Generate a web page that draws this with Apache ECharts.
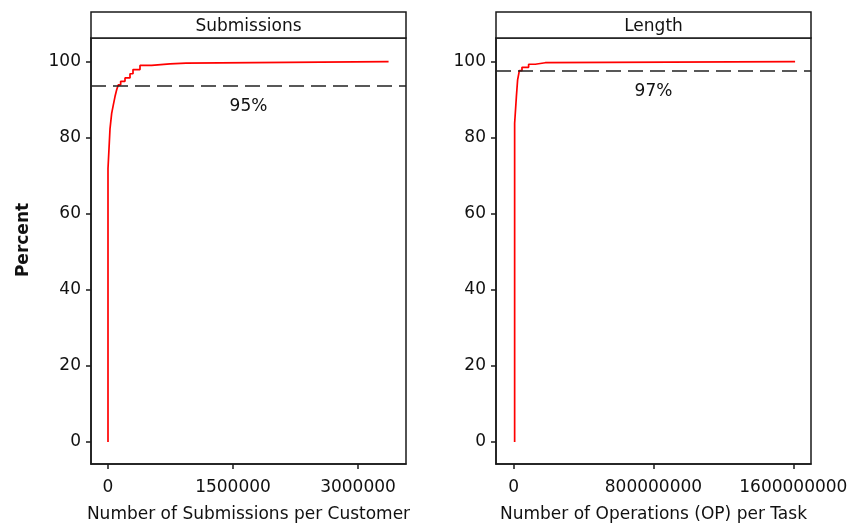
<!DOCTYPE html>
<html>
<head>
<meta charset="utf-8">
<script src="https://cdn.jsdelivr.net/npm/echarts@6/dist/echarts.min.js"></script>
<style>
html,body{margin:0;padding:0;background:#fff;}
#chart{width:848px;height:525px;}
</style>
</head>
<body>
<div id="chart"></div>
<script>
// ---- data ----
const panelTitles = ['Submissions', 'Length'];
const xAxisNames = ['Number of Submissions per Customer', 'Number of Operations (OP) per Task'];
const yAxisName = 'Percent';

// Submissions ECDF (x = submissions per customer, y = cumulative percent)
const subX = [0, 0, 24000, 44000, 64000, 84000, 104000, 124000, 152000, 204000, 264000, 300000, 384000, 524000, 744000, 936000, 3367000];
const subY = [0, 71.9, 82.3, 86.4, 88.6, 90.8, 92.6, 93.9, 94.8, 95.7, 96.8, 97.9, 99.0, 99.4, 99.6, 100, 100];

// Length ECDF (x = operations per task, y = cumulative percent)
const lenX = [6e6, 6e6, 16e6, 23e6, 33e6, 48e6, 86e6, 124e6, 181e6, 1610e6];
const lenY = [0, 83.8, 90.8, 95.2, 97.6, 98.5, 99.3, 99.7, 100, 100];

// reference lines and labels
const cutValues = [93.6, 97.5];
const cutLabels = ['95%', '97%'];

// ticks
const yTicks = [0, 20, 40, 60, 80, 100];
const subXTicks = [0, 1500000, 3000000];
const lenXTicks = [0, 800000000, 1600000000];

// ---- layout ----
const W = 848, H = 525;
const grids = [
  {left: 91, right: W - 406, top: 38, bottom: H - 464},
  {left: 496, right: W - 811, top: 38, bottom: H - 464}
];
const xRanges = [[-204000, 3576000], [-100.6e6, 1701e6]];
const yRange = [-5.8, 106.2];
const FONT = 'DejaVu Sans';
const FS = 17;
const frameColor = '#1a1a1a';

function zip(xs, ys) { return xs.map((x, i) => [x, ys[i]]); }

const xTickSets = [subXTicks, lenXTicks];
const seriesData = [zip(subX, subY), zip(lenX, lenY)];

const option = {
  animation: false,
  backgroundColor: '#fff',
  grid: grids.map(g => Object.assign({show: true, borderColor: frameColor, borderWidth: 1.5,
    backgroundColor: 'transparent', containLabel: false, outerBoundsMode: 'none'}, g)),
  xAxis: [0, 1].map(i => ({
    type: 'value', gridIndex: i,
    min: xRanges[i][0], max: xRanges[i][1],
    name: xAxisNames[i], nameLocation: 'middle', nameGap: 42,
    nameTextStyle: {fontFamily: FONT, fontSize: FS, color: '#111'},
    axisLine: {show: true, onZero: false, lineStyle: {color: frameColor, width: 1.5}},
    axisTick: {show: true, length: 5, customValues: xTickSets[i], lineStyle: {color: frameColor, width: 1.5}},
    axisLabel: {customValues: xTickSets[i], margin: 15, fontFamily: FONT, fontSize: FS, color: '#111', formatter: v => String(v), hideOverlap: false},
    splitLine: {show: false}
  })),
  yAxis: [0, 1].map(i => ({
    type: 'value', gridIndex: i,
    min: yRange[0], max: yRange[1],
    axisLine: {show: true, onZero: false, lineStyle: {color: frameColor, width: 1.5}},
    axisTick: {show: true, length: 5, customValues: yTicks, lineStyle: {color: frameColor, width: 1.5}},
    axisLabel: {customValues: yTicks, margin: 10, fontFamily: FONT, fontSize: FS, color: '#111'},
    splitLine: {show: false}
  })),
  series: [0, 1].map(i => ({
    type: 'line', xAxisIndex: i, yAxisIndex: i,
    data: seriesData[i], step: 'end', showSymbol: false, symbol: 'none',
    lineStyle: {color: '#ff0000', width: 1.7},
    markLine: {
      silent: true, symbol: 'none',
      lineStyle: {color: '#222', width: 1.5, type: [15, 7]},
      label: {show: true, position: 'insideMiddleBottom', distance: 12, formatter: cutLabels[i],
              fontFamily: FONT, fontSize: FS, color: '#111'},
      data: [{yAxis: cutValues[i]}]
    }
  })),
  graphic: []
};

// strip headers
grids.forEach((g, i) => {
  const x0 = g.left, x1 = W - g.right;
  option.graphic.push({
    type: 'rect', shape: {x: x0, y: 12, width: x1 - x0, height: g.top - 12},
    style: {fill: '#fff', stroke: frameColor, lineWidth: 1.5}, z: 100
  });
  option.graphic.push({
    type: 'text', x: (x0 + x1) / 2, y: (12 + g.top) / 2 + 2,
    style: {text: panelTitles[i], fontFamily: FONT, fontSize: FS, fill: '#111', align: 'center', verticalAlign: 'middle'},
    z: 101
  });
});
// y axis title
option.graphic.push({
  type: 'text', x: 24, y: 240, rotation: Math.PI / 2,
  style: {text: yAxisName, fontFamily: FONT, fontSize: FS, fontWeight: 'bold', fill: '#111', align: 'center', verticalAlign: 'middle'},
  z: 101
});

const chart = echarts.init(document.getElementById('chart'), null, {renderer: 'canvas'});
chart.setOption(option);
</script>
</body>
</html>
